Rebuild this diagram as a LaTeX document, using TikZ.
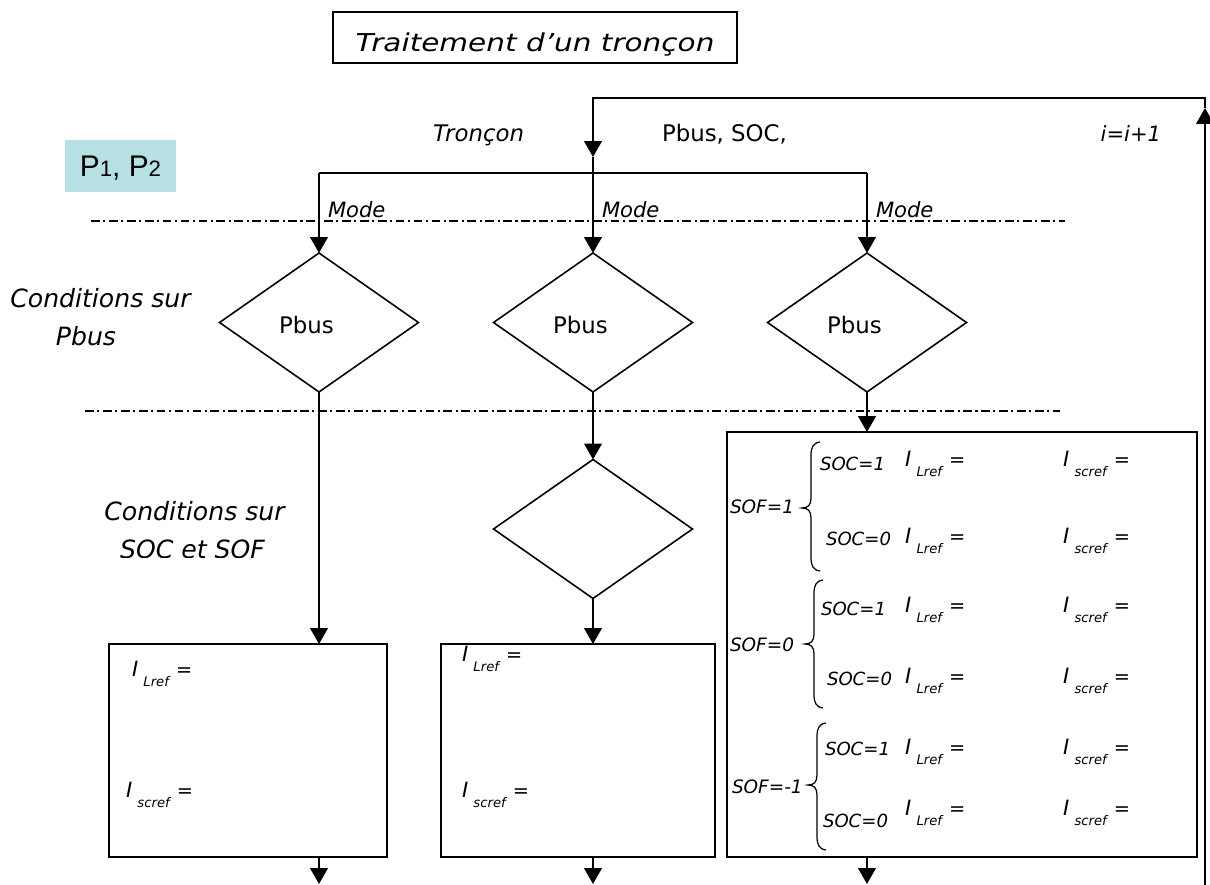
\documentclass[tikz,border=0pt]{standalone}
\usepackage{fontspec}
\setmainfont{DejaVu Sans}
\newfontfamily\arialf{Liberation Sans}
\usetikzlibrary{shapes.geometric,arrows.meta}
\definecolor{pcyan}{RGB}{183,224,228}
\newcommand\fs[1]{\fontsize{#1}{#1}\selectfont}
% current reference: I with an italic subscript, then "="
\newcommand\ivar[1]{{\fs{12}\itshape I\hspace{3pt}\raisebox{-6pt}{\fs{7.5}#1}\hspace{4pt}\upshape\fs{11}=}}
% left curly brace: stem x, top y, middle y, bottom y
\newcommand\brc[4]{%
  \draw[brc] (#1+9,#2) .. controls (#1+2,#2+1) and (#1,#2+5) .. (#1,#2+14)
    -- (#1,#3-10) .. controls (#1,#3-3) and (#1-3,#3) .. (#1-9,#3)
    .. controls (#1-3,#3) and (#1,#3+3) .. (#1,#3+10)
    -- (#1,#4-14) .. controls (#1,#4-5) and (#1+2,#4-1) .. (#1+9,#4);}
\begin{document}
\begin{tikzpicture}[x=0.02cm,y=-0.02cm,line width=1pt,
  arr/.style={-{Triangle[width=10pt,length=9pt]}},
  dashdot/.style={line width=0.8pt,dash pattern=on 5pt off 2pt on 1.2pt off 2pt},
  dia/.style={draw,diamond,minimum width=3.98cm,minimum height=2.78cm,inner sep=0,outer sep=0,line width=0.9pt},
  box/.style={draw,rectangle,inner sep=0,outer sep=0},
  txt/.style={inner sep=0,outer sep=0,anchor=base west},
  ctxt/.style={inner sep=0,outer sep=0,anchor=base},
  lbl/.style={font=\fs{14.3}\itshape},
  soc/.style={font=\fs{10.3}\itshape},
  brc/.style={line width=0.7pt}]
\useasboundingbox (0,0) rectangle (1210,885);

% title and parameters
\node[box,line width=0.8pt,minimum width=8.08cm,minimum height=1.02cm,text height=16.2pt,text depth=0pt] (title) at (535,37.5)
  {\scalebox{1.2}[1]{\fs{14}\itshape Traitement d'un tronçon}};
\node[fill=pcyan,minimum width=2.22cm,minimum height=1.04cm,inner sep=0,text height=12.2pt,text depth=0pt] (p12) at (120.5,166)
  {\arialf\fs{17}P{\fs{12.7}1}, P{\fs{12.7}2}};

% decision diamonds
\node[dia] (d1) at (319,322.5) {};
\node[dia] (d2) at (593,322.5) {};
\node[dia] (d3) at (867,322.5) {};
\node[dia] (d4) at (593,529) {};

% result boxes
\node[box,minimum width=5.56cm,minimum height=4.26cm] (b1) at (248,750.5) {};
\node[box,minimum width=5.48cm,minimum height=4.26cm] (b2) at (578,750.5) {};
\node[box,minimum width=9.4cm,minimum height=8.5cm] (big) at (962,644.5) {};

% routing points
\coordinate (fbbot) at (1205,885);
\coordinate (fbtip) at (1205,108);
\coordinate (fbtop) at (1205,98);
\coordinate (jtop) at (593,98);
\coordinate (jarr) at (593,157);
\coordinate (br) at (593,173);
\coordinate (bot) at (593,884);

% loop and flow
\draw[arr] (fbbot) -- (fbtip);
\draw[arr] (fbtip) -- (fbtop) -- (jtop) -- (jarr);
\draw[arr] (jarr) -- (d2.north);
\draw (d1.north |- br) -- (d3.north |- br);
\draw[arr] (d1.north |- br) -- (d1.north);
\draw[arr] (d3.north |- br) -- (d3.north);
\draw[arr] (d1.south) -- (d1.south |- b1.north);
\draw[arr] (d2.south) -- (d4.north);
\draw[arr] (d4.south) -- (d4.south |- b2.north);
\draw[arr] (d3.south) -- (d3.south |- big.north);
\draw[arr] (d1.south |- b1.south) -- (d1.south |- bot);
\draw[arr] (d4.south |- b2.south) -- (d4.south |- bot);
\draw[arr] (d3.south |- big.south) -- (d3.south |- bot);

% level separators
\coordinate (da) at (91,221);
\coordinate (db) at (1065,221);
\coordinate (dc) at (85,411);
\coordinate (dd) at (1060,411);
\draw[dashdot] (da) -- (db);
\draw[dashdot] (dc) -- (dd);

% inputs
\node[txt] (tron) at (433,141.7) {\fs{13}\itshape Tronçon};
\node[txt] (pin) at (662,141.7) {\fs{13}Pbus, SOC,};
\node[inner sep=0,anchor=base east] (inc) at (1162,141.7) {\fs{12}\itshape i=i+1};
\node[txt] (m1) at (328,218) {\fs{12}\itshape Mode};
\node[txt] (m2) at (602,218) {\fs{12}\itshape Mode};
\node[txt] (m3) at (876,218) {\fs{12}\itshape Mode};

% level captions
\node[ctxt,lbl] (c1a) at (100.5,307) {Conditions sur};
\node[ctxt,lbl] (c1b) at (86,345) {Pbus};
\node[ctxt,lbl] (c2a) at (194.5,520) {Conditions sur};
\begin{scope}
  \clip (0,0) rectangle (400,557.5);
  \node[ctxt,lbl] (c2b) at (192.5,558) {SOC et SOF};
\end{scope}

% diamond texts
\node[txt] (p1) at (279,333) {\fs{13}Pbus};
\node[txt] (p2) at (553,333) {\fs{13}Pbus};
\node[txt] (p3) at (827,333) {\fs{13}Pbus};

% simple boxes
\node[txt] (l1) at (132,676) {\ivar{Lref}};
\node[txt] (s1) at (126,797) {\ivar{scref}};
\node[txt] (l2) at (462,661) {\ivar{Lref}};
\node[txt] (s2) at (462,797) {\ivar{scref}};

% SOF / SOC cases
\node[txt,font=\fs{10.5}\itshape] (f1) at (730,513) {SOF=1};
\node[txt,font=\fs{10.5}\itshape] (f0) at (730,651) {SOF=0};
\node[txt,font=\fs{10.5}\itshape] (fm) at (732,793) {SOF=-1};
\brc{811}{442}{508}{571}
\brc{814}{580}{644}{708}
\brc{817}{723}{785}{850}

\node[txt,soc] (r1) at (820,470) {SOC=1};
\node[txt,soc] (r2) at (826,545) {SOC=0};
\node[txt,soc] (r3) at (821,615) {SOC=1};
\node[txt,soc] (r4) at (827,685) {SOC=0};
\node[txt,soc] (r5) at (825,755) {SOC=1};
\node[txt,soc] (r6) at (823,827) {SOC=0};

\node[txt] (rl1) at (905,466) {\ivar{Lref}};
\node[txt] (rl2) at (905,543) {\ivar{Lref}};
\node[txt] (rl3) at (905,612) {\ivar{Lref}};
\node[txt] (rl4) at (905,683) {\ivar{Lref}};
\node[txt] (rl5) at (905,754) {\ivar{Lref}};
\node[txt] (rl6) at (905,815) {\ivar{Lref}};

\node[txt] (rs1) at (1063,466) {\ivar{scref}};
\node[txt] (rs2) at (1063,543) {\ivar{scref}};
\node[txt] (rs3) at (1063,612) {\ivar{scref}};
\node[txt] (rs4) at (1063,683) {\ivar{scref}};
\node[txt] (rs5) at (1063,754) {\ivar{scref}};
\node[txt] (rs6) at (1063,815) {\ivar{scref}};
\end{tikzpicture}
\end{document}
